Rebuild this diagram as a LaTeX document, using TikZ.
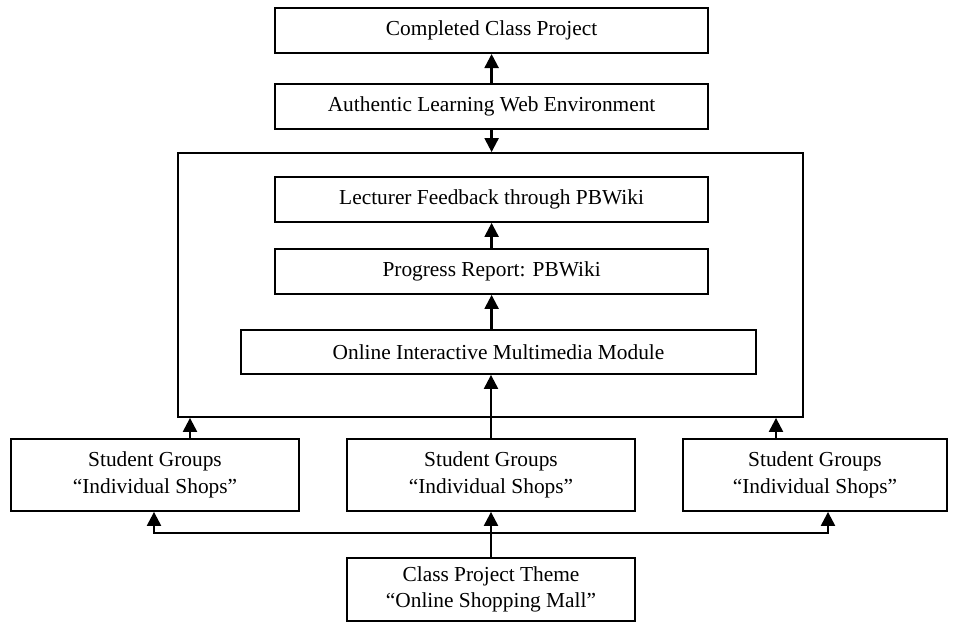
\documentclass[tikz,border=0pt]{standalone}
\usepackage{fontspec}
\setmainfont{Liberation Serif}
\usetikzlibrary{arrows.meta}

\begin{document}
\begin{tikzpicture}[
   box/.style={rectangle,draw,line width=1.3pt,align=center,inner sep=+0.1cm,
    font=\fontsize{15.2}{19}\selectfont},
   arr/.style={line width=1.6pt,-{Triangle[width=10pt,length=10pt]}}
    ]
  \useasboundingbox (0,0) rectangle (23.95,15.575);

  % -- top column
  \node[box,minimum width=10.83cm,minimum height=1.125cm] at (12.29,14.81) (cp) {Completed Class Project};
  \node[box,minimum width=10.83cm,minimum height=1.125cm] at (12.29,12.91) (aw) {Authentic Learning Web Environment};

  % -- frame and its boxes
  \node[box,minimum width=15.625cm,minimum height=6.6cm] at (12.2625,8.45) (fr) {};
  \node[box,minimum width=10.83cm,minimum height=1.125cm] at (12.29,10.5875) (lf) {Lecturer Feedback through PBWiki};
  \node[box,minimum width=10.83cm,minimum height=1.125cm] at (12.29,8.7875) (pr) {Progress Report: PBWiki};
  \node[box,minimum width=12.875cm,minimum height=1.1cm] at (12.4625,6.775) (om) {Online Interactive Multimedia Module};

  % -- student groups
  \node[box,minimum width=7.2cm,minimum height=1.8cm] at (3.875,3.7) (sgl) {Student Groups\\``Individual Shops''};
  \node[box,minimum width=7.2cm,minimum height=1.8cm] at (12.275,3.7) (sgm) {Student Groups\\``Individual Shops''};
  \node[box,minimum width=6.6cm,minimum height=1.8cm] at (20.375,3.7) (sgr) {Student Groups\\``Individual Shops''};

  % -- theme
  \node[box,minimum width=7.2cm,minimum height=1.575cm] at (12.275,0.8375) (ct) {Class Project Theme\\``Online Shopping Mall''};
  \coordinate (j) at (12.275,2.25);

  % -- arrows
  \draw[arr] (aw) -- (cp);
  \draw[arr] (aw) -- (aw.south |- fr.north);
  \draw[arr] (pr) -- (lf);
  \draw[arr] (pr.south |- om.north) -- (pr);
  \draw[arr] (sgm) -- (sgm.north |- om.south);
  \draw[arr] ([xshift=0.875cm]sgl.north) -- ([xshift=0.875cm]sgl.north |- fr.south);
  \draw[arr] ([xshift=-0.975cm]sgr.north) -- ([xshift=-0.975cm]sgr.north |- fr.south);
  \draw[arr] (ct) -- (sgm);
  \draw[arr] (j) -| ([xshift=-0.025cm]sgl.south);
  \draw[arr] (j) -| ([xshift=0.325cm]sgr.south);

\end{tikzpicture}
\end{document}
